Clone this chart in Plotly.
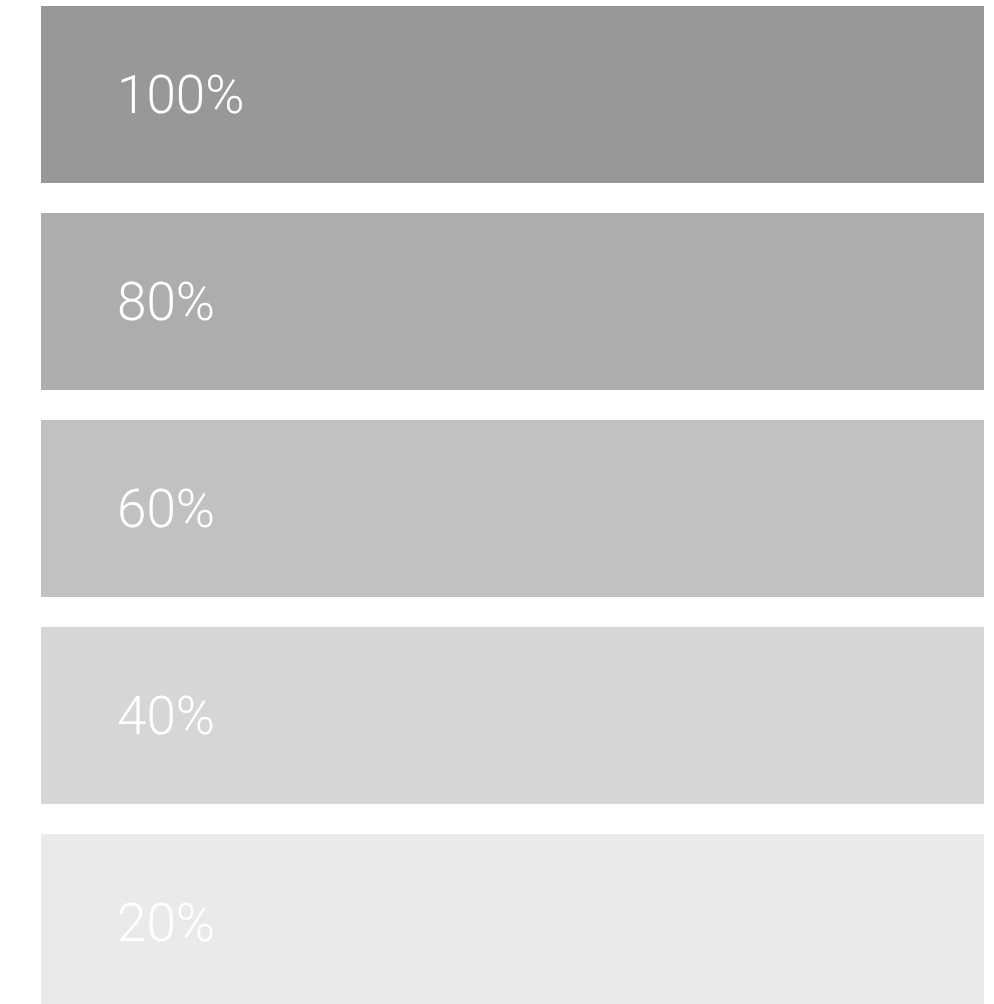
import plotly.graph_objects as go

labels = ["100%", "80%", "60%", "40%", "20%"]
opacity_levels = [1.0, 0.8, 0.6, 0.4, 0.2]
positions = [0, 1, 2, 3, 4]
bar_lengths = [1, 1, 1, 1, 1]

base_rgb = (152, 152, 154)
colors = [f"rgba({base_rgb[0]},{base_rgb[1]},{base_rgb[2]},{a})" for a in opacity_levels]

fig = go.Figure()
fig.add_trace(go.Bar(
    x=bar_lengths,
    y=positions,
    orientation="h",
    marker=dict(color=colors, line=dict(width=0)),
    width=177 / 207,
    hoverinfo="skip",
    showlegend=False,
))

for lab, pos in zip(labels, positions):
    fig.add_annotation(
        x=0.078, y=pos, xref="x", yref="y",
        text=lab, showarrow=False,
        xanchor="left", yanchor="middle",
        font=dict(family="Roboto", size=53, color="white", weight=300),
    )

fig.update_layout(
    width=994, height=1004,
    margin=dict(l=41, r=10, t=6, b=0, pad=0),
    paper_bgcolor="white", plot_bgcolor="white",
    xaxis=dict(range=[0, 1], visible=False, fixedrange=True),
    yaxis=dict(range=[(1004 - 94.5) / 207, -(94.5 - 6) / 207], visible=False, fixedrange=True),
    bargap=0,
)

fig.write_html(
    "out.html",
    config={"displayModeBar": False},
    post_script="document.body.style.margin='0';document.body.style.overflow='hidden';",
)
